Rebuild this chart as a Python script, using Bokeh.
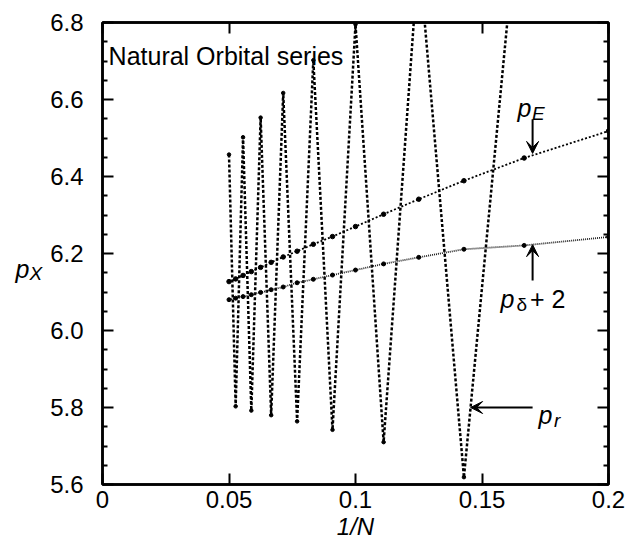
import numpy as np
from bokeh.plotting import figure
from bokeh.layouts import row
from bokeh.models import (Range1d, LinearAxis, FixedTicker, Label, Arrow, VeeHead)
from bokeh.embed import file_html
from bokeh.resources import INLINE
from bokeh.core.properties import value

# ---- data ----
N_r = [20, 19, 18, 17, 16, 15, 14, 13, 12, 11, 10, 9, 8, 7, 6]
p_r = [6.457, 5.803, 6.502, 5.792, 6.553, 5.780, 6.617, 5.764, 6.702, 5.742,
       6.795, 5.710, 6.980, 5.619, 7.260]

N_E = [20, 19, 18, 17, 16, 15, 14, 13, 12, 11, 10, 9, 8, 7, 6, 5]
p_E = [6.127, 6.134, 6.143, 6.153, 6.164, 6.177, 6.191, 6.206, 6.224, 6.244,
       6.270, 6.302, 6.341, 6.389, 6.448, 6.518]
p_d2 = [6.080, 6.084, 6.088, 6.093, 6.099, 6.106, 6.113, 6.124, 6.133, 6.144,
        6.157, 6.173, 6.190, 6.211, 6.221, 6.243]

x_ticks = [0, 0.05, 0.1, 0.15, 0.2]
x_tick_labels = ["0", "0.05", "0.1", "0.15", "0.2"]
y_ticks = [5.6, 5.8, 6.0, 6.2, 6.4, 6.6, 6.8]
y_tick_labels = ["5.6", "5.8", "6.0", "6.2", "6.4", "6.6", "6.8"]
y_minor = [5.65, 5.7, 5.75, 5.85, 5.9, 5.95, 6.05, 6.1, 6.15, 6.25, 6.3, 6.35,
           6.45, 6.5, 6.55, 6.65, 6.7, 6.75]

x_r = 1.0 / np.array(N_r, dtype=float)
x_E = 1.0 / np.array(N_E, dtype=float)

FONT = "Liberation Sans"
W, H = 639, 546
LEFT_W = 46

# ---- left panel holding the y-axis title p_X ----
lp = figure(width=LEFT_W, height=H, x_range=Range1d(0, LEFT_W), y_range=Range1d(H, 0),
            output_backend="svg", toolbar_location=None, min_border=0,
            x_axis_location=None, y_axis_location=None)
lp.grid.visible = False
lp.outline_line_color = None
lp.background_fill_color = "white"
lp.border_fill_color = "white"
lp.text(x=[15], y=[291], text=["p"], text_font=value(FONT), text_font_size=value("25px"),
        text_font_style="italic", text_baseline="alphabetic", text_color="black")
lp.text(x=[29], y=[297], text=["X"], text_font=value(FONT), text_font_size=value("19px"),
        text_font_style="italic", text_baseline="alphabetic", text_color="black")

# ---- main plot ----
p = figure(width=W - LEFT_W, height=H, x_range=Range1d(0, 0.2), y_range=Range1d(5.6, 6.8),
           output_backend="svg", toolbar_location=None,
           min_border_left=102 - LEFT_W, min_border_right=31,
           min_border_top=22, min_border_bottom=62)
p.xgrid.visible = False
p.ygrid.visible = False
p.outline_line_color = "black"
p.outline_line_width = 2.5
p.background_fill_color = "white"
p.border_fill_color = "white"


def style(ax, ticks, labels):
    ax.axis_line_color = "black"
    ax.axis_line_width = 2.5
    ax.major_tick_line_color = "black"
    ax.major_tick_line_width = 2
    ax.minor_tick_line_color = "black"
    ax.minor_tick_line_width = 2
    ax.major_tick_in = 11
    ax.major_tick_out = 0
    ax.minor_tick_in = 5
    ax.minor_tick_out = 0
    ax.major_label_text_font = FONT
    ax.major_label_text_color = "black"
    if labels is not None:
        ax.major_label_overrides = dict(zip(ticks, labels))
        ax.major_label_text_font_size = "24px"
    else:
        ax.major_label_overrides = {t: "" for t in ticks}
        ax.major_label_text_font_size = "1px"
        ax.major_label_standoff = 0


xa = p.xaxis[0]
xa.ticker = FixedTicker(ticks=x_ticks, minor_ticks=[])
style(xa, x_ticks, x_tick_labels)
xa.major_label_standoff = 6
xa.axis_label = "1/N"
xa.axis_label_text_font = FONT
xa.axis_label_text_font_size = "24px"
xa.axis_label_text_font_style = "italic"
xa.axis_label_text_color = "black"
xa.axis_label_standoff = 2

ya = p.yaxis[0]
ya.ticker = FixedTicker(ticks=y_ticks, minor_ticks=y_minor)
style(ya, y_ticks, y_tick_labels)
ya.major_label_standoff = 19

top = LinearAxis(ticker=FixedTicker(ticks=x_ticks, minor_ticks=[]))
style(top, x_ticks, None)
p.add_layout(top, "above")
right = LinearAxis(ticker=FixedTicker(ticks=y_ticks, minor_ticks=y_minor))
style(right, y_ticks, None)
p.add_layout(right, "right")

# ---- series ----
p.line(x_r, p_r, line_color="black", line_width=2.5, line_dash="3 2")
p.scatter(x_r, p_r, size=3.5, color="black")

p.line(x_E, p_E, line_color="black", line_width=1.8, line_dash="2 2")
p.scatter(x_E, p_E, size=4.5, color="black")

p.line(x_E, p_d2, line_color="#222222", line_width=1.8, line_dash="1 1")
p.scatter(x_E, p_d2, size=4, color="black")


# ---- annotations ----
def lab(x, y, t, size="25px", style="normal", align="left"):
    p.add_layout(Label(x=x, y=y, text=t, text_font=FONT, text_font_size=size,
                       text_font_style=style, text_align=align,
                       text_baseline="alphabetic", text_color="black"))


lab(0.0024, 6.712, "Natural Orbital series")
# p_E
lab(0.1640, 6.5774, "p", style="italic")
lab(0.1698, 6.5644, "E", size="19px", style="italic")
# p_delta + 2
lab(0.1573, 6.0813, "p", style="italic")
lab(0.1636, 6.068, "δ", size="19px")
lab(0.1690, 6.0813, "+ 2")
# p_r
lab(0.1723, 5.780, "p", style="italic")
lab(0.1785, 5.767, "r", size="19px", style="italic")


def arrow(x0, y0, x1, y1):
    p.add_layout(Arrow(end=VeeHead(size=12, fill_color="black", line_color="black"),
                       x_start=x0, y_start=y0, x_end=x1, y_end=y1,
                       line_color="black", line_width=2))


arrow(0.17, 6.549, 0.17, 6.460)
arrow(0.17, 6.130, 0.17, 6.223)
arrow(0.17, 5.800, 0.1455, 5.800)

layout = row(lp, p, spacing=0)
open("out.html", "w").write(file_html(layout, INLINE))
